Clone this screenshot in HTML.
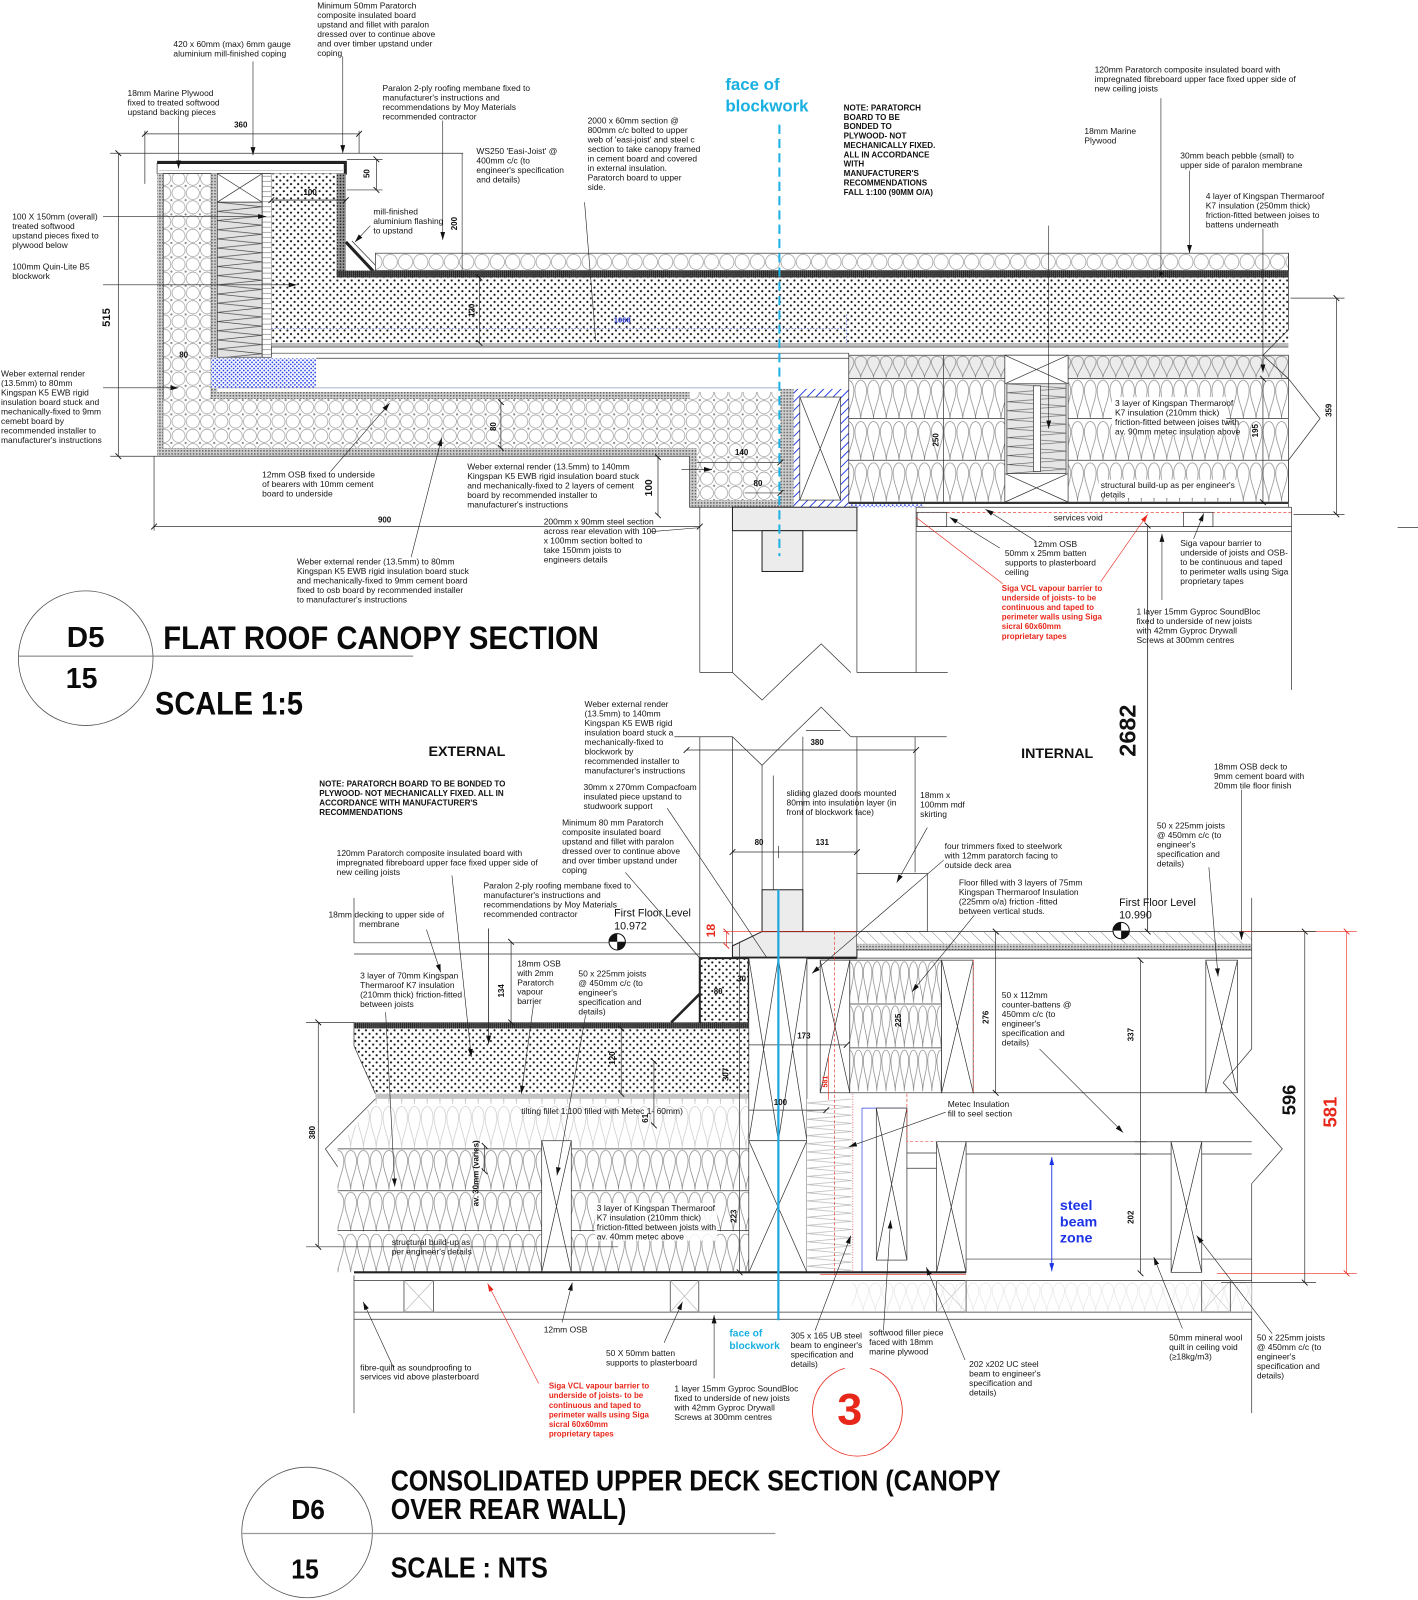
<!DOCTYPE html>
<html><head><meta charset="utf-8"><style>
html,body{margin:0;padding:0;background:#fff}
svg{display:block}
text{font-family:"Liberation Sans",Arial,sans-serif;fill:#151515}
.t{font-size:8.3px}
.n{font-size:7.9px;font-weight:bold;fill:#111}
.d{font-size:7.8px;font-weight:bold;fill:#111}
.r{font-size:7.8px;font-weight:bold;fill:#e8271b}
.ti{font-weight:bold;fill:#0a0a0a}
</style></head><body>
<svg width="1418" height="1600" viewBox="0 0 1390 1568" xmlns="http://www.w3.org/2000/svg">
<defs>
<marker id="ar" viewBox="0 0 10 6" refX="10" refY="3" markerWidth="8" markerHeight="4.8" markerUnits="userSpaceOnUse" orient="auto"><path d="M0,0L10,3L0,6z" fill="#111"/></marker>
<marker id="arr" viewBox="0 0 10 6" refX="10" refY="3" markerWidth="8" markerHeight="4.8" markerUnits="userSpaceOnUse" orient="auto"><path d="M0,0L10,3L0,6z" fill="#e8271b"/></marker>
<marker id="arb" viewBox="0 0 10 6" refX="10" refY="3" markerWidth="8" markerHeight="4.8" markerUnits="userSpaceOnUse" orient="auto-start-reverse"><path d="M0,0L10,3L0,6z" fill="#1c33e6"/></marker>
<marker id="tk" viewBox="0 0 10 10" refX="5" refY="5" markerWidth="8" markerHeight="8" markerUnits="userSpaceOnUse" orient="auto"><path d="M1.5,8.5L8.5,1.5" stroke="#111" stroke-width="1.1"/></marker>
<marker id="tkr" viewBox="0 0 10 10" refX="5" refY="5" markerWidth="8" markerHeight="8" markerUnits="userSpaceOnUse" orient="auto"><path d="M1.5,8.5L8.5,1.5" stroke="#e8271b" stroke-width="1.1"/></marker>
<pattern id="dots" width="7" height="7" patternUnits="userSpaceOnUse"><rect width="7" height="7" fill="#fff"/><circle cx="1.75" cy="1.75" r="1.05" fill="#111"/><circle cx="5.25" cy="5.25" r="1.05" fill="#111"/></pattern>
<pattern id="gd" width="3" height="3" patternUnits="userSpaceOnUse"><rect width="3" height="3" fill="#cfcfcf"/><rect width="1.5" height="1.5" fill="#666"/></pattern>
<pattern id="gd2" width="3" height="3" patternUnits="userSpaceOnUse"><rect width="3" height="3" fill="#999"/><rect width="1.5" height="1.5" fill="#222"/></pattern>
<pattern id="mem" width="2" height="2" patternUnits="userSpaceOnUse"><rect width="2" height="2" fill="#222"/><rect x="1" y="1" width="1" height="1" fill="#999"/></pattern>
<pattern id="circ" width="14" height="14" patternUnits="userSpaceOnUse"><rect width="14" height="14" fill="#fff"/><circle cx="7" cy="7" r="6.4" fill="none" stroke="#8a8a8a" stroke-width=".6"/><circle cx="0" cy="0" r="1.1" fill="#8a8a8a"/><circle cx="14" cy="0" r="1.1" fill="#8a8a8a"/><circle cx="0" cy="14" r="1.1" fill="#8a8a8a"/><circle cx="14" cy="14" r="1.1" fill="#8a8a8a"/></pattern>
<pattern id="peb" width="15" height="17" y="248" patternUnits="userSpaceOnUse"><rect width="15" height="17" fill="#fff"/><ellipse cx="7.5" cy="8.5" rx="7" ry="7.5" fill="none" stroke="#8a8a8a" stroke-width=".6"/></pattern>
<pattern id="bt" width="12.5" height="23" y="348" patternUnits="userSpaceOnUse"><rect width="12.5" height="23" fill="#ececec"/><path d="M6.25,22 C6.25,16 0.5,12.5 0.5,6.5 A5.75,5.5 0 0 1 12,6.5 C12,12.5 6.25,16 6.25,22" fill="none" stroke="#777" stroke-width=".6"/></pattern>
<pattern id="b41" width="12.5" height="40.5" y="371" patternUnits="userSpaceOnUse"><rect width="12.5" height="40.5" fill="#fff"/><path d="M6.25,39.5 C6.25,29 0.5,22.5 0.5,11.5 A5.75,10 0 0 1 12,11.5 C12,22.5 6.25,29 6.25,39.5" fill="none" stroke="#777" stroke-width=".6"/></pattern>
<pattern id="b41b" width="12.5" height="41" y="1126" patternUnits="userSpaceOnUse"><rect width="12.5" height="41" fill="#fff"/><path d="M6.25,40 C6.25,29 0.5,22.5 0.5,11.5 A5.75,10 0 0 1 12,11.5 C12,22.5 6.25,29 6.25,40" fill="none" stroke="#777" stroke-width=".6"/></pattern>
<pattern id="bf" width="12.5" height="43" y="1083" patternUnits="userSpaceOnUse"><rect width="12.5" height="43" fill="#fff"/><path d="M6.25,42 C6.25,30 0.5,24 0.5,12 A5.75,10.5 0 0 1 12,12 C12,24 6.25,30 6.25,42" fill="none" stroke="#c4c4c4" stroke-width=".6"/></pattern>
<pattern id="bv" width="9" height="43.3" y="941" patternUnits="userSpaceOnUse"><rect width="9" height="43.3" fill="#fff"/><path d="M4.5,42 C4.5,30 0.4,24 0.4,12 A4.1,10.5 0 0 1 8.6,12 C8.6,24 4.5,30 4.5,42" fill="none" stroke="#777" stroke-width=".6"/></pattern>
<pattern id="bw" width="12" height="30" y="1256" patternUnits="userSpaceOnUse"><rect width="12" height="30" fill="#fff"/><path d="M6,29 C6,21 0.5,17 0.5,9 A5.5,7.5 0 0 1 11.5,9 C11.5,17 6,21 6,29" fill="none" stroke="#e2e2e2" stroke-width=".6"/></pattern>
<pattern id="zig" width="44" height="9" x="213" y="198" patternUnits="userSpaceOnUse"><rect width="44" height="9" fill="#e2e2e2"/><polyline points="0,0 44,4.5 0,9" fill="none" stroke="#444" stroke-width=".6"/></pattern>
<pattern id="zig2" width="59" height="8.8" x="987" y="376" patternUnits="userSpaceOnUse"><rect width="59" height="8.8" fill="#e6e6e6"/><polyline points="0,0 59,4.4 0,8.8" fill="none" stroke="#444" stroke-width=".6"/></pattern>
<pattern id="zz" width="44" height="8" x="791" y="1077" patternUnits="userSpaceOnUse"><rect width="44" height="8" fill="#fff"/><polyline points="44,0 0,4 44,8" fill="none" stroke="#b5b5b5" stroke-width=".6"/></pattern>
<pattern id="lad" width="9" height="5" patternUnits="userSpaceOnUse"><rect width="9" height="5" fill="#fff"/><line x1="0" y1="2.5" x2="9" y2="2.5" stroke="#777" stroke-width=".6"/></pattern>
<pattern id="h45" width="9" height="9" patternUnits="userSpaceOnUse" patternTransform="rotate(-45)"><rect width="9" height="9" fill="#fff"/><line x1="0" y1="0" x2="0" y2="9" stroke="#777" stroke-width=".8"/></pattern>
<pattern id="bh" width="6" height="6" patternUnits="userSpaceOnUse" patternTransform="rotate(45)"><rect width="6" height="6" fill="#fff"/><line x1="0" y1="0" x2="0" y2="6" stroke="#1c33e6" stroke-width="1.8"/></pattern>
<pattern id="bd" width="4" height="4" patternUnits="userSpaceOnUse"><rect width="4" height="4" fill="#fff"/><circle cx="1" cy="1" r=".9" fill="#2a45e8"/><circle cx="3" cy="3" r=".9" fill="#2a45e8"/></pattern>
</defs>

<!-- ================= D5 DRAWING ================= -->
<g fill="none" stroke="#333" stroke-width=".7">
<!-- coping & plywood -->
<rect x="154" y="160" width="185" height="10" fill="#fff"/>
<path d="M154,159H338.5V171" stroke="#222" stroke-width="3"/>
<path d="M156,167H336" stroke="#aaa"/>
<!-- left wall -->
<rect x="154" y="170" width="6" height="277" fill="url(#gd)" stroke="none"/>
<rect x="160" y="170" width="47" height="269" fill="url(#circ)"/>
<rect x="207" y="170" width="6" height="221" fill="url(#gd)" stroke="none"/>
<rect x="213" y="170" width="44" height="28" fill="#fff"/>
<path d="M213,170L257,198M257,170L213,198"/>
<rect x="213" y="198" width="44" height="152" fill="url(#zig)"/>
<rect x="257" y="170" width="9" height="180" fill="url(#lad)"/>
<rect x="266" y="170" width="64" height="102" fill="url(#dots)" stroke="none"/>
<rect x="330" y="170" width="9" height="98" fill="url(#gd2)" stroke="none"/>
<path d="M266,196H339"/>
<!-- fillet -->
<path d="M339,237L368,268" stroke="#222" stroke-width="3"/>
<path d="M345,236L373,265"/>
<!-- pebble, membrane, slab -->
<rect x="368" y="248" width="895" height="17" fill="url(#peb)"/>
<rect x="330" y="265" width="933" height="7" fill="url(#mem)" stroke="none"/>
<rect x="266" y="272" width="997" height="64" fill="url(#dots)" stroke="none"/>
<path d="M266,322H830" stroke="#4458e0" stroke-dasharray="1.5,1.5"/>
<path d="M830,308V336" stroke="#4458e0" stroke-dasharray="1.5,1.5"/>
<rect x="266" y="336" width="997" height="4" fill="#bdbdbd" stroke="none"/>
<path d="M266,340H1263M266,346H832M832,346V348"/>
<rect x="207" y="351" width="103" height="29" fill="url(#bd)" stroke="none"/>
<path d="M310,351H832"/>
<path d="M213,380H765" stroke="#8c93c8"/>
<!-- soffit -->
<rect x="213" y="384" width="463" height="7" fill="url(#gd)" stroke="none"/>
<rect x="160" y="391" width="516" height="48" fill="url(#circ)" stroke="none"/>
<rect x="154" y="439" width="522" height="8" fill="url(#gd)" stroke="none"/>
<rect x="676" y="384" width="89" height="106" fill="url(#circ)" stroke="none"/>
<rect x="676" y="439" width="7" height="58" fill="url(#gd)" stroke="none"/>
<rect x="676" y="490" width="89" height="7" fill="url(#gd)" stroke="none"/>
<rect x="765" y="381" width="13" height="116" fill="url(#gd)" stroke="none"/>
<path d="M154,447H676V497H778"/>
<!-- steel -->
<rect x="778" y="381" width="54" height="116" fill="url(#bh)" stroke="none"/>
<rect x="784" y="389" width="40" height="101" fill="#fff"/>
<path d="M784,389L824,490M824,389L784,490"/>
<rect x="832" y="492" width="73" height="5" fill="url(#bd)" stroke="none"/>
<rect x="718" y="497" width="122" height="23" fill="#ececec" stroke="#222" stroke-width="1"/>
<rect x="747" y="520" width="40" height="40" fill="#ececec" stroke="#222" stroke-width="1"/>
<!-- insulation between joists -->
<rect x="832" y="348" width="431" height="23" fill="url(#bt)"/>
<rect x="832" y="371" width="431" height="121" fill="url(#b41)"/>
<path d="M832,410H1263M832,451H1263"/>
<rect x="985" y="348" width="62" height="144" fill="#fff"/>
<path d="M985,348L1047,376M1047,348L985,376M985,464L1047,492M1047,464L985,492"/>
<rect x="987" y="376" width="58" height="88" fill="url(#zig2)"/>
<rect x="1013" y="378" width="7" height="84" fill="#fff"/>
<path d="M1263,248V323L1238,348L1263,371L1294,410L1263,451V497"/>
<!-- ceiling / services void -->
<path d="M832,493H1263" stroke-width="1.6"/>
<path d="M898,497H1266M898,516H1266M898,521H1266"/>
<path d="M898,502H1266" stroke="#e8271b" stroke-dasharray="3,2"/>
<rect x="899" y="502" width="29" height="14"/>
<rect x="1160" y="502" width="29" height="14"/>
<!-- below -->
<path d="M686,497V659M718,520V659M840,520V659M898,497V659M686,659H718M840,659H929M1266,497V676M1125,520V913"/>
<path d="M718,659L747,686L775,659L805,631L834,659"/>
<!-- dims -->
<path d="M116,150V447" marker-start="url(#tk)" marker-end="url(#tk)"/>
<path d="M108,150H454M108,447H154M151,447V520M142,128V180M352,128V150"/>
<path d="M142,131H352" marker-start="url(#tk)" marker-end="url(#tk)"/>
<path d="M151,516H686" marker-start="url(#tk)" marker-end="url(#tk)"/>
<path d="M369,156V186" marker-start="url(#tk)" marker-end="url(#tk)"/>
<path d="M340,156H375M340,186H375"/>
<path d="M266,196H339" marker-start="url(#tk)" marker-end="url(#tk)"/>
<path d="M470,272V336" marker-start="url(#tk)" marker-end="url(#tk)"/>
<path d="M491,394V439" marker-start="url(#tk)" marker-end="url(#tk)"/>
<path d="M683,453H765" marker-end="url(#tk)"/>
<path d="M730,483H765" marker-end="url(#tk)"/>
<path d="M645,448V505" marker-start="url(#tk)" marker-end="url(#tk)"/>
<path d="M925,348V492"/>
<path d="M1238,371V492" marker-start="url(#tk)" marker-end="url(#tk)"/>
<path d="M1310,292V504" marker-start="url(#tk)" marker-end="url(#tk)"/>
<path d="M1265,292H1318M1268,504H1318M1370,517H1390"/>
</g>
<!-- face of blockwork dashed -->
<path d="M764,122V545" stroke="#1fb1e3" stroke-width="2" stroke-dasharray="9,5"/>

<!-- D5 leaders -->
<g fill="none" stroke="#222" stroke-width=".6">
<path d="M248,60V152" marker-end="url(#ar)"/>
<path d="M336,55V150" marker-end="url(#ar)"/>
<path d="M175,113V165" marker-end="url(#ar)"/>
<path d="M434,118V235" marker-end="url(#ar)"/>
<path d="M453,150V265"/>
<path d="M573,198L584,334"/>
<path d="M101,212H261" marker-end="url(#ar)"/>
<path d="M101,279H291" marker-end="url(#ar)"/>
<path d="M101,380H175" marker-end="url(#ar)"/>
<path d="M363,221L348,237" marker-end="url(#ar)"/>
<path d="M324,462L382,395" marker-end="url(#ar)"/>
<path d="M403,546L433,429" marker-end="url(#ar)"/>
<path d="M668,460H698" marker-end="url(#ar)"/>
<path d="M638,521L686,517"/>
<path d="M1138,96V267"/>
<circle cx="1138" cy="268" r="1.6" fill="#111"/>
<path d="M1028,221V420" marker-end="url(#ar)"/>
<path d="M1166,167V248" marker-end="url(#ar)"/>
<path d="M1238,224V365" marker-end="url(#ar)"/>
<path d="M1015,530L966,499" marker-end="url(#ar)"/>
<path d="M980,537L931,507" marker-end="url(#ar)"/>
<path d="M1170,528L1180,503" marker-end="url(#ar)"/>
<path d="M1139,588V523" marker-end="url(#ar)"/>
<path d="M1079,570L1125,504" stroke="#e8271b" marker-end="url(#arr)"/>
<path d="M983,572L898,507" stroke="#e8271b"/>
</g>

<!-- D5 text -->
<text class="t" x="311" y="8"><tspan x="311">Minimum 50mm Paratorch</tspan><tspan x="311" dy="9.3">composite insulated board</tspan><tspan x="311" dy="9.3">upstand and fillet with paralon</tspan><tspan x="311" dy="9.3">dressed over to continue above</tspan><tspan x="311" dy="9.3">and over timber upstand under</tspan><tspan x="311" dy="9.3">coping</tspan></text>
<text class="t" x="170" y="46"><tspan x="170">420 x 60mm (max)  6mm gauge</tspan><tspan x="170" dy="9.3">aluminium mill-finished coping</tspan></text>
<text class="t" x="125" y="94"><tspan x="125">18mm Marine Plywood</tspan><tspan x="125" dy="9.3">fixed to treated softwood</tspan><tspan x="125" dy="9.3">upstand backing pieces</tspan></text>
<text class="t" x="375" y="89"><tspan x="375">Paralon 2-ply roofing membane fixed to</tspan><tspan x="375" dy="9.3">manufacturer's instructions and</tspan><tspan x="375" dy="9.3">recommendations by Moy Materials</tspan><tspan x="375" dy="9.3">recommended contractor</tspan></text>
<text class="t" x="576" y="121"><tspan x="576">2000 x 60mm section @</tspan><tspan x="576" dy="9.3">800mm c/c  bolted to upper</tspan><tspan x="576" dy="9.3">web of 'easi-joist' and steel c</tspan><tspan x="576" dy="9.3">section to take canopy framed</tspan><tspan x="576" dy="9.3">in cement board and covered</tspan><tspan x="576" dy="9.3">in external insulation.</tspan><tspan x="576" dy="9.3">Paratorch board to upper</tspan><tspan x="576" dy="9.3">side.</tspan></text>
<text class="t" x="467" y="151"><tspan x="467">WS250 'Easi-Joist' @</tspan><tspan x="467" dy="9.3">400mm c/c (to</tspan><tspan x="467" dy="9.3">engineer's specification</tspan><tspan x="467" dy="9.3">and details)</tspan></text>
<text x="711" y="88" style="font-size:16.5px;font-weight:bold;fill:#17b0e0">face of</text>
<text x="711" y="109" style="font-size:16.5px;font-weight:bold;fill:#17b0e0">blockwork</text>
<text class="n" x="827" y="108"><tspan x="827">NOTE: PARATORCH</tspan><tspan x="827" dy="9.2">BOARD TO BE</tspan><tspan x="827" dy="9.2">BONDED TO</tspan><tspan x="827" dy="9.2">PLYWOOD- NOT</tspan><tspan x="827" dy="9.2">MECHANICALLY FIXED.</tspan><tspan x="827" dy="9.2">ALL IN ACCORDANCE</tspan><tspan x="827" dy="9.2">WITH</tspan><tspan x="827" dy="9.2">MANUFACTURER'S</tspan><tspan x="827" dy="9.2">RECOMMENDATIONS</tspan><tspan x="827" dy="9.2">FALL 1:100 (90MM O/A)</tspan></text>
<text class="t" x="1073" y="71"><tspan x="1073">120mm Paratorch composite insulated board with</tspan><tspan x="1073" dy="9.3">impregnated fibreboard upper face fixed upper side of</tspan><tspan x="1073" dy="9.3">new ceiling joists</tspan></text>
<text class="t" x="1063" y="131"><tspan x="1063">18mm Marine</tspan><tspan x="1063" dy="9.3">Plywood</tspan></text>
<text class="t" x="1157" y="155"><tspan x="1157">30mm beach pebble (small) to</tspan><tspan x="1157" dy="9.3">upper side of paralon membrane</tspan></text>
<text class="t" x="1182" y="195"><tspan x="1182">4 layer of Kingspan Thermaroof</tspan><tspan x="1182" dy="9.3">K7 insulation (250mm thick)</tspan><tspan x="1182" dy="9.3">friction-fitted between joises to</tspan><tspan x="1182" dy="9.3">battens underneath</tspan></text>
<text class="t" x="12" y="215"><tspan x="12">100 X 150mm (overall)</tspan><tspan x="12" dy="9.3">treated softwood</tspan><tspan x="12" dy="9.3">upstand pieces fixed to</tspan><tspan x="12" dy="9.3">plywood below</tspan></text>
<text class="t" x="12" y="264"><tspan x="12">100mm Quin-Lite B5</tspan><tspan x="12" dy="9.3">blockwork</tspan></text>
<text class="t" x="1" y="369"><tspan x="1">Weber external render</tspan><tspan x="1" dy="9.3">(13.5mm) to 80mm</tspan><tspan x="1" dy="9.3">Kingspan K5 EWB rigid</tspan><tspan x="1" dy="9.3">insulation board stuck and</tspan><tspan x="1" dy="9.3">mechanically-fixed to 9mm</tspan><tspan x="1" dy="9.3">cemebt board by</tspan><tspan x="1" dy="9.3">recommended installer to</tspan><tspan x="1" dy="9.3">manufacturer's instructions</tspan></text>
<text class="t" x="366" y="210"><tspan x="366">mill-finished</tspan><tspan x="366" dy="9.3">aluminium flashing</tspan><tspan x="366" dy="9.3">to upstand</tspan></text>
<text class="t" x="257" y="468"><tspan x="257">12mm OSB fixed to underside</tspan><tspan x="257" dy="9.3">of bearers with 10mm cement</tspan><tspan x="257" dy="9.3">board to underside</tspan></text>
<text class="t" x="458" y="460"><tspan x="458">Weber external render (13.5mm) to 140mm</tspan><tspan x="458" dy="9.3">Kingspan K5 EWB rigid insulation board stuck</tspan><tspan x="458" dy="9.3">and mechanically-fixed to 2 layers of cement</tspan><tspan x="458" dy="9.3">board by recommended installer to</tspan><tspan x="458" dy="9.3">manufacturer's instructions</tspan></text>
<text class="t" x="533" y="514"><tspan x="533">200mm x 90mm steel section</tspan><tspan x="533" dy="9.3">across rear elevation with 100</tspan><tspan x="533" dy="9.3">x 100mm section bolted to</tspan><tspan x="533" dy="9.3">take 150mm joists to</tspan><tspan x="533" dy="9.3">engineers details</tspan></text>
<text class="t" x="291" y="553"><tspan x="291">Weber external render (13.5mm) to 80mm</tspan><tspan x="291" dy="9.3">Kingspan K5 EWB rigid insulation board stuck</tspan><tspan x="291" dy="9.3">and mechanically-fixed to 9mm cement board</tspan><tspan x="291" dy="9.3">fixed to osb board by recommended installer</tspan><tspan x="291" dy="9.3">to manufacturer's instructions</tspan></text>
<text class="t" x="1013" y="536">12mm OSB</text>
<text class="t" x="985" y="545"><tspan x="985">50mm x 25mm batten</tspan><tspan x="985" dy="9.3">supports to plasterboard</tspan><tspan x="985" dy="9.3">ceiling</tspan></text>
<text class="r" x="982" y="579"><tspan x="982">Siga VCL vapour barrier to</tspan><tspan x="982" dy="9.4">underside of joists- to be</tspan><tspan x="982" dy="9.4">continuous and taped to</tspan><tspan x="982" dy="9.4">perimeter walls using Siga</tspan><tspan x="982" dy="9.4">sicral 60x60mm</tspan><tspan x="982" dy="9.4">proprietary tapes</tspan></text>
<text class="t" x="1157" y="535"><tspan x="1157">Siga vapour barrier to</tspan><tspan x="1157" dy="9.3">underside of joists and OSB-</tspan><tspan x="1157" dy="9.3">to be continuous and taped</tspan><tspan x="1157" dy="9.3">to perimeter walls using Siga</tspan><tspan x="1157" dy="9.3">proprietary tapes</tspan></text>
<text class="t" x="1114" y="602"><tspan x="1114">1 layer 15mm Gyproc SoundBloc</tspan><tspan x="1114" dy="9.3">fixed to underside of new joists</tspan><tspan x="1114" dy="9.3">with  42mm Gyproc Drywall</tspan><tspan x="1114" dy="9.3">Screws at 300mm centres</tspan></text>
<rect x="1090" y="389" width="112" height="37" fill="#fff"/>
<text class="t" x="1093" y="398"><tspan x="1093">3 layer of Kingspan Thermaroof</tspan><tspan x="1093" dy="9.3">K7 insulation (210mm thick)</tspan><tspan x="1093" dy="9.3">friction-fitted between joises twith</tspan><tspan x="1093" dy="9.3">av. 90mm metec insulation above</tspan></text>
<rect x="1077" y="470" width="136" height="18" fill="#fff"/>
<text class="t" x="1079" y="478"><tspan x="1079">structural build-up as per engineer's</tspan><tspan x="1079" dy="9.3">details</tspan></text>
<text class="t" x="1033" y="510">services void</text>
<!-- D5 dims text -->
<text class="d" x="236" y="125" text-anchor="middle">360</text>
<text class="d" transform="translate(362,170) rotate(-90)" text-anchor="middle">50</text>
<text class="d" x="304" y="191" text-anchor="middle">100</text>
<text class="d" transform="translate(448,219) rotate(-90)" text-anchor="middle">200</text>
<text transform="translate(108,311) rotate(-90)" text-anchor="middle" style="font-size:11px;font-weight:bold">515</text>
<text class="d" x="180" y="350" text-anchor="middle">80</text>
<text class="d" transform="translate(465,304) rotate(-90)" text-anchor="middle">120</text>
<text x="610" y="316" text-anchor="middle" style="font-size:7.5px;font-weight:bold;fill:#2233cc">1068</text>
<text class="d" transform="translate(486,418) rotate(-90)" text-anchor="middle">80</text>
<text class="d" x="727" y="446" text-anchor="middle">140</text>
<text class="d" x="743" y="476" text-anchor="middle">80</text>
<text transform="translate(639,478) rotate(-90)" text-anchor="middle" style="font-size:10px;font-weight:bold">100</text>
<text class="d" x="377" y="512" text-anchor="middle">900</text>
<text class="d" transform="translate(920,431) rotate(-90)" text-anchor="middle">250</text>
<text class="d" transform="translate(1233,422) rotate(-90)" text-anchor="middle">195</text>
<text class="d" transform="translate(1305,402) rotate(-90)" text-anchor="middle">359</text>

<!-- D5 title -->
<circle cx="84" cy="645" r="66" fill="none" stroke="#555" stroke-width=".8"/>
<path d="M18,643H405" stroke="#777" stroke-width="1"/>
<text class="ti" x="84" y="634" text-anchor="middle" style="font-size:28px" textLength="37" lengthAdjust="spacingAndGlyphs">D5</text>
<text class="ti" x="80" y="674" text-anchor="middle" style="font-size:28px" textLength="31" lengthAdjust="spacingAndGlyphs">15</text>
<text class="ti" x="160" y="636" style="font-size:32px" textLength="427" lengthAdjust="spacingAndGlyphs">FLAT ROOF CANOPY SECTION</text>
<text class="ti" x="152" y="700" style="font-size:32px" textLength="145" lengthAdjust="spacingAndGlyphs">SCALE 1:5</text>

<!-- ================= D6 DRAWING ================= -->
<g fill="none" stroke="#333" stroke-width=".7">
<path d="M661,722H718M834,722H928M686,722V939M718,722V927M787,722V872M840,722V913M897,722V855M747,750V872M758,760V872"/>
<path d="M718,722L747,750L775,722L805,693L834,722"/>
<path d="M790,716H824"/>
<path d="M673,735H898" marker-start="url(#tk)" marker-end="url(#tk)"/>
<path d="M718,835H840" marker-start="url(#tk)" marker-end="url(#tk)"/>
<path d="M763,829V841"/>
<rect x="840" y="856" width="69" height="57" fill="#fff"/>
<rect x="747" y="872" width="40" height="41" fill="#ececec" stroke="#222" stroke-width="1"/>
<polygon points="718,927 747,913 840,913 840,938 718,938" fill="#ececec" stroke="#222" stroke-width="1"/>
<path d="M718,939H840" stroke="#222" stroke-width="2"/>
<path d="M347,880V924M347,924H718M347,935H686M479,910V1002"/>
<rect x="686" y="939" width="48" height="64" fill="url(#dots)" stroke="#222" stroke-width="2"/>
<path d="M658,1002L686,974" stroke="#222" stroke-width="2.5"/>
<rect x="347" y="1002" width="387" height="6" fill="url(#mem)" stroke="none"/>
<polygon points="347,1008 734,1008 734,1072 368,1072 347,1025" fill="url(#dots)" stroke="none"/>
<rect x="368" y="1072" width="366" height="5" fill="#c4c4c4" stroke="none"/>
<polygon points="368,1077 734,1077 734,1126 331,1126" fill="url(#bf)" stroke="none"/>
<path d="M347,1002V1025L368,1072M368,1077L319,1126L347,1167"/>
<rect x="331" y="1126" width="403" height="121" fill="url(#b41b)" stroke="none"/>
<path d="M331,1167H734M331,1206H734M331,1126H734"/>
<rect x="531" y="1118" width="29" height="129" fill="#fff"/>
<path d="M531,1118L560,1247M560,1118L531,1247"/>
<rect x="734" y="939" width="57" height="179" fill="#fff"/>
<path d="M734,939L763,1118M763,939L734,1118M763,939L791,1118M791,939L763,1118"/>
<rect x="734" y="1118" width="57" height="129" fill="#fff"/>
<path d="M734,1118L791,1247M791,1118L734,1247"/>
<rect x="791" y="1077" width="44" height="170" fill="url(#zz)" stroke="none"/>
<rect x="804" y="941" width="29" height="130" fill="#fff"/>
<path d="M804,941L833,1071M833,941L804,1071"/>
<rect x="833" y="941" width="90" height="130" fill="url(#bv)"/>
<path d="M833,984H923M833,1027H923"/>
<rect x="923" y="941" width="31" height="130" fill="#fff"/>
<path d="M923,941L954,1071M954,941L923,1071"/>
<rect x="840" y="913" width="387" height="12" fill="url(#h45)" stroke="none"/>
<rect x="840" y="925" width="387" height="6" fill="url(#gd)" stroke="none"/>
<path d="M840,913H1227M840,931H1227M791,939H1227"/>
<path d="M954,1071H1208M947,1119H1227M947,1131H1227M947,1234H1227M889,1130H918M889,1145H918"/>
<rect x="1182" y="941" width="31" height="130" fill="#fff"/>
<path d="M1182,941L1213,1071M1213,941L1182,1071"/>
<path d="M845,1247V1086H889" stroke="#3344dd"/>
<rect x="859" y="1086" width="30" height="149" fill="#fff"/>
<path d="M859,1086L889,1235M889,1086L859,1235"/>
<rect x="918" y="1119" width="29" height="128" fill="#fff"/>
<path d="M918,1119L947,1247M947,1119L918,1247"/>
<rect x="1148" y="1119" width="30" height="128" fill="#fff"/>
<path d="M1148,1119L1178,1247M1178,1119L1148,1247"/>
<path d="M1227,880V1028L1199,1061L1257,1126L1227,1160V1385"/>
<path d="M347,1247H947" stroke="#222" stroke-width="2"/>
<rect x="835" y="1256" width="392" height="30" fill="url(#bw)" stroke="none"/>
<path d="M347,1255H1227M347,1286H1227M347,1293H1227M347,1250V1385"/>
<rect x="396" y="1255" width="29" height="31"/><path d="M396,1255L425,1286M425,1255L396,1286" stroke="#bbb"/>
<rect x="657" y="1255" width="28" height="31"/><path d="M657,1255L685,1286M685,1255L657,1286" stroke="#bbb"/>
<rect x="918" y="1255" width="29" height="31"/><path d="M918,1255L947,1286M947,1255L918,1286" stroke="#ccc"/>
<rect x="1178" y="1255" width="28" height="31"/><path d="M1178,1255L1206,1286M1206,1255L1178,1286" stroke="#ccc"/>
<g stroke="#e8271b" stroke-width=".6">
<path d="M709,913H840M1215,913H1330M1193,1248H1330M804,1249H947"/>
<path d="M818,913V1250" stroke-dasharray="3,2"/>
<path d="M836,1072V1247" stroke-dasharray="1,1.5"/>
<path d="M954,941V1072M889,1072V1119H918" stroke-dasharray="3,2"/>
<path d="M712,913V927" marker-start="url(#tkr)" marker-end="url(#tkr)"/>
<path d="M1320,913V1248" marker-start="url(#tkr)" marker-end="url(#tkr)"/>
<path d="M812,1035V1078"/>
</g>
<path d="M312,1002V1222" marker-start="url(#tk)" marker-end="url(#tk)"/>
<path d="M300,1002H347M300,1222H606"/>
<path d="M501,923V1002" marker-start="url(#tk)" marker-end="url(#tk)"/>
<path d="M609,1008V1072" marker-start="url(#tk)" marker-end="url(#tk)"/>
<path d="M725,923V1247" marker-end="url(#tk)"/>
<path d="M734,1024H830" marker-end="url(#tk)"/>
<path d="M734,1088H810" marker-end="url(#tk)"/>
<path d="M641,1040V1103" marker-start="url(#tk)" marker-end="url(#tk)"/>
<path d="M475,1123V1148" marker-start="url(#tk)" marker-end="url(#tk)"/>
<path d="M976,913V1071" marker-start="url(#tk)" marker-end="url(#tk)"/>
<path d="M1118,941V1248" marker-start="url(#tk)" marker-end="url(#tk)"/>
<path d="M1112,1119H1124M1112,1131H1124"/>
<path d="M1279,913V1257" marker-start="url(#tk)" marker-end="url(#tk)"/>
<path d="M1227,913H1290M1197,1257H1290"/>
<path d="M1125,515V913" marker-start="url(#tk)" marker-end="url(#tk)"/>
</g>
<path d="M1031,1134V1246" stroke="#1c33e6" stroke-width=".9" marker-start="url(#arb)" marker-end="url(#arb)"/>
<path d="M763,872V1294" stroke="#1fa8e0" stroke-width="2.2"/>

<g>
<circle cx="605" cy="923" r="8" fill="#fff" stroke="#111" stroke-width="1"/>
<path d="M605,923V915A8,8 0 0 0 597,923Z" fill="#111"/>
<path d="M605,923H613A8,8 0 0 1 605,931Z" fill="#111"/>
<circle cx="1099" cy="912" r="8" fill="#fff" stroke="#111" stroke-width="1"/>
<path d="M1099,912V904A8,8 0 0 0 1091,912Z" fill="#111"/>
<path d="M1099,912H1107A8,8 0 0 1 1099,920Z" fill="#111"/>
</g>

<g fill="none" stroke="#222" stroke-width=".6">
<path d="M654,792L752,939"/>
<path d="M613,855L686,939"/>
<path d="M909,811L879,865" marker-end="url(#ar)"/>
<path d="M925,843L796,954" marker-end="url(#ar)"/>
<path d="M955,897L894,972" marker-end="url(#ar)"/>
<path d="M1217,774V921" marker-end="url(#ar)"/>
<path d="M1185,850L1194,957" marker-end="url(#ar)"/>
<path d="M418,911L432,953" marker-end="url(#ar)"/>
<path d="M443,858L462,1036" marker-end="url(#ar)"/>
<path d="M479,910V1023" marker-end="url(#ar)"/>
<path d="M378,992L387,1163" marker-end="url(#ar)"/>
<path d="M523,984L511,1072" marker-end="url(#ar)"/>
<path d="M574,995L546,1152" marker-end="url(#ar)"/>
<path d="M386,1341L356,1276" marker-end="url(#ar)"/>
<path d="M551,1296L561,1257" marker-end="url(#ar)"/>
<path d="M651,1316L669,1276" marker-end="url(#ar)"/>
<path d="M700,1351V1289" marker-end="url(#ar)"/>
<path d="M799,1304L834,1211" marker-end="url(#ar)"/>
<path d="M866,1304L873,1196" marker-end="url(#ar)"/>
<path d="M946,1333L908,1242" marker-end="url(#ar)"/>
<path d="M1159,1302L1131,1232" marker-end="url(#ar)"/>
<path d="M1247,1307L1173,1211" marker-end="url(#ar)"/>
<path d="M927,1090L832,1124" marker-end="url(#ar)"/>
<path d="M1019,1028L1101,1110" marker-end="url(#ar)"/>
<path d="M528,1356L478,1258" stroke="#e8271b" marker-end="url(#arr)"/>
</g>

<text x="420" y="741" style="font-size:14px;font-weight:bold;fill:#111">EXTERNAL</text>
<text x="1001" y="743" style="font-size:14px;font-weight:bold;fill:#111">INTERNAL</text>
<text transform="translate(1113,716) rotate(-90)" text-anchor="middle" style="font-size:23px;font-weight:bold;fill:#111">2682</text>
<text class="n" x="313" y="771"><tspan x="313">NOTE: PARATORCH BOARD TO BE BONDED TO</tspan><tspan x="313" dy="9.3">PLYWOOD- NOT MECHANICALLY FIXED. ALL IN</tspan><tspan x="313" dy="9.3">ACCORDANCE WITH MANUFACTURER'S</tspan><tspan x="313" dy="9.3">RECOMMENDATIONS</tspan></text>
<text class="t" x="573" y="693"><tspan x="573">Weber external render</tspan><tspan x="573" dy="9.3">(13.5mm) to 140mm</tspan><tspan x="573" dy="9.3">Kingspan K5 EWB rigid</tspan><tspan x="573" dy="9.3">insulation board stuck a</tspan><tspan x="573" dy="9.3">mechanically-fixed to</tspan><tspan x="573" dy="9.3">blockwork by</tspan><tspan x="573" dy="9.3">recommended installer to</tspan><tspan x="573" dy="9.3">manufacturer's instructions</tspan></text>
<text class="t" x="572" y="774"><tspan x="572">30mm x 270mm Compacfoam</tspan><tspan x="572" dy="9.3">insulated piece upstand to</tspan><tspan x="572" dy="9.3">studwoork support</tspan></text>
<text class="t" x="551" y="809"><tspan x="551">Minimum 80 mm Paratorch</tspan><tspan x="551" dy="9.3">composite insulated board</tspan><tspan x="551" dy="9.3">upstand and fillet with paralon</tspan><tspan x="551" dy="9.3">dressed over to continue above</tspan><tspan x="551" dy="9.3">and over timber upstand under</tspan><tspan x="551" dy="9.3">coping</tspan></text>
<text class="t" x="771" y="780"><tspan x="771">sliding glazed doors mounted</tspan><tspan x="771" dy="9.3">80mm into insulation layer (in</tspan><tspan x="771" dy="9.3">front of blockwork face)</tspan></text>
<text class="t" x="902" y="782"><tspan x="902">18mm x</tspan><tspan x="902" dy="9.3">100mm mdf</tspan><tspan x="902" dy="9.3">skirting</tspan></text>
<text class="t" x="1190" y="754"><tspan x="1190">18mm OSB deck to</tspan><tspan x="1190" dy="9.3">9mm cement board with</tspan><tspan x="1190" dy="9.3">20mm tile floor finish</tspan></text>
<text class="t" x="330" y="839"><tspan x="330">120mm Paratorch composite insulated board with</tspan><tspan x="330" dy="9.3">impregnated fibreboard upper face fixed upper side of</tspan><tspan x="330" dy="9.3">new ceiling joists</tspan></text>
<text class="t" x="926" y="832"><tspan x="926">four trimmers fixed to steelwork</tspan><tspan x="926" dy="9.3">with 12mm paratorch facing to</tspan><tspan x="926" dy="9.3">outside deck area</tspan></text>
<text class="t" x="1134" y="812"><tspan x="1134">50 x 225mm joists</tspan><tspan x="1134" dy="9.3">@ 450mm c/c (to</tspan><tspan x="1134" dy="9.3">engineer's</tspan><tspan x="1134" dy="9.3">specification and</tspan><tspan x="1134" dy="9.3">details)</tspan></text>
<text class="t" x="474" y="871"><tspan x="474">Paralon 2-ply roofing membane fixed to</tspan><tspan x="474" dy="9.3">manufacturer's instructions and</tspan><tspan x="474" dy="9.3">recommendations by Moy Materials</tspan><tspan x="474" dy="9.3">recommended contractor</tspan></text>
<text class="t" x="940" y="868"><tspan x="940">Floor filled with 3 layers of 75mm</tspan><tspan x="940" dy="9.3">Kingspan Thermaroof Insulation</tspan><tspan x="940" dy="9.3">(225mm o/a) friction -fitted</tspan><tspan x="940" dy="9.3">between vertical studs.</tspan></text>
<text x="602" y="898" style="font-size:10.5px;fill:#111">First Floor Level</text>
<text x="602" y="911" style="font-size:10.5px;fill:#111">10.972</text>
<text x="1097" y="888" style="font-size:10.5px;fill:#111">First Floor Level</text>
<text x="1097" y="900" style="font-size:10.5px;fill:#111">10.990</text>
<text class="t" x="322" y="899"><tspan x="322">18mm decking to upper side of</tspan><tspan x="352" dy="9.3">membrane</tspan></text>
<text class="t" x="507" y="947"><tspan x="507">18mm OSB</tspan><tspan x="507" dy="9.3">with 2mm</tspan><tspan x="507" dy="9.3">Paratorch</tspan><tspan x="507" dy="9.3">vapour</tspan><tspan x="507" dy="9.3">barrier</tspan></text>
<text class="t" x="567" y="957"><tspan x="567">50 x 225mm joists</tspan><tspan x="567" dy="9.3">@ 450mm c/c (to</tspan><tspan x="567" dy="9.3">engineer's</tspan><tspan x="567" dy="9.3">specification and</tspan><tspan x="567" dy="9.3">details)</tspan></text>
<text class="t" x="353" y="959"><tspan x="353">3 layer of 70mm Kingspan</tspan><tspan x="353" dy="9.3">Thermaroof K7 insulation</tspan><tspan x="353" dy="9.3">(210mm thick) friction-fitted</tspan><tspan x="353" dy="9.3">between joists</tspan></text>
<text class="t" x="982" y="978"><tspan x="982">50 x 112mm</tspan><tspan x="982" dy="9.3">counter-battens @</tspan><tspan x="982" dy="9.3">450mm c/c (to</tspan><tspan x="982" dy="9.3">engineer's</tspan><tspan x="982" dy="9.3">specification and</tspan><tspan x="982" dy="9.3">details)</tspan></text>
<text class="t" x="511" y="1092">tilting fillet 1:100 filled with Metec 1- 60mm)</text>
<text class="t" x="929" y="1085"><tspan x="929">Metec Insulation</tspan><tspan x="929" dy="9.3">fill to seel section</tspan></text>
<rect x="583" y="1179" width="120" height="37" fill="#fff" opacity=".85"/>
<text class="t" x="585" y="1187"><tspan x="585">3 layer of Kingspan Thermaroof</tspan><tspan x="585" dy="9.3">K7 insulation (210mm thick)</tspan><tspan x="585" dy="9.3">friction-fitted between joists with</tspan><tspan x="585" dy="9.3">av. 40mm metec above</tspan></text>
<text class="t" x="384" y="1220"><tspan x="384">structural build-up as</tspan><tspan x="384" dy="9.3">per engineer's details</tspan></text>
<text x="1039" y="1186" style="font-size:14px;font-weight:bold;fill:#1c33e6"><tspan x="1039">steel</tspan><tspan x="1039" dy="16">beam</tspan><tspan x="1039" dy="16">zone</tspan></text>
<text class="t" x="533" y="1306">12mm OSB</text>
<text class="t" x="594" y="1329"><tspan x="594">50 X 50mm batten</tspan><tspan x="594" dy="9.3">supports to plasterboard</tspan></text>
<text x="715" y="1310" style="font-size:10px;font-weight:bold;fill:#17b0e0"><tspan x="715">face of</tspan><tspan x="715" dy="12">blockwork</tspan></text>
<text class="t" x="775" y="1312"><tspan x="775">305  x 165 UB steel</tspan><tspan x="775" dy="9.3">beam to engineer's</tspan><tspan x="775" dy="9.3">specification and</tspan><tspan x="775" dy="9.3">details)</tspan></text>
<text class="t" x="852" y="1309"><tspan x="852">softwood filler piece</tspan><tspan x="852" dy="9.3">faced with 18mm</tspan><tspan x="852" dy="9.3">marine plywood</tspan></text>
<text class="t" x="950" y="1340"><tspan x="950">202  x202 UC steel</tspan><tspan x="950" dy="9.3">beam to engineer's</tspan><tspan x="950" dy="9.3">specification and</tspan><tspan x="950" dy="9.3">details)</tspan></text>
<text class="t" x="1146" y="1314"><tspan x="1146">50mm mineral wool</tspan><tspan x="1146" dy="9.3">quilt in ceiling void</tspan><tspan x="1146" dy="9.3">(≥18kg/m3)</tspan></text>
<text class="t" x="1232" y="1314"><tspan x="1232">50 x 225mm joists</tspan><tspan x="1232" dy="9.3">@ 450mm c/c (to</tspan><tspan x="1232" dy="9.3">engineer's</tspan><tspan x="1232" dy="9.3">specification and</tspan><tspan x="1232" dy="9.3">details)</tspan></text>
<text class="t" x="353" y="1343"><tspan x="353">fibre-quilt as soundproofing to</tspan><tspan x="353" dy="9.3">services vid above plasterboard</tspan></text>
<text class="r" x="538" y="1361"><tspan x="538">Siga VCL vapour barrier to</tspan><tspan x="538" dy="9.4">underside of joists- to be</tspan><tspan x="538" dy="9.4">continuous and taped to</tspan><tspan x="538" dy="9.4">perimeter walls using Siga</tspan><tspan x="538" dy="9.4">sicral 60x60mm</tspan><tspan x="538" dy="9.4">proprietary tapes</tspan></text>
<text class="t" x="661" y="1364"><tspan x="661">1 layer 15mm Gyproc SoundBloc</tspan><tspan x="661" dy="9.3">fixed to underside of new joists</tspan><tspan x="661" dy="9.3">with  42mm Gyproc Drywall</tspan><tspan x="661" dy="9.3">Screws at 300mm centres</tspan></text>
<text class="d" x="801" y="730" text-anchor="middle">380</text>
<text class="d" x="744" y="828" text-anchor="middle">80</text>
<text class="d" x="806" y="828" text-anchor="middle">131</text>
<text transform="translate(701,912) rotate(-90)" text-anchor="middle" style="font-size:12px;font-weight:bold;fill:#e8271b">18</text>
<text class="d" transform="translate(494,971) rotate(-90)" text-anchor="middle">134</text>
<text class="d" x="704" y="974" text-anchor="middle">80</text>
<text class="d" x="727" y="962" text-anchor="middle">30</text>
<text class="d" x="788" y="1018" text-anchor="middle">173</text>
<text class="d" transform="translate(883,1000) rotate(-90)" text-anchor="middle">225</text>
<text class="d" transform="translate(969,997) rotate(-90)" text-anchor="middle">276</text>
<text class="d" transform="translate(1111,1014) rotate(-90)" text-anchor="middle">337</text>
<text class="d" transform="translate(603,1037) rotate(-90)" text-anchor="middle">120</text>
<text class="d" transform="translate(714,1053) rotate(-90)" text-anchor="middle">307</text>
<text transform="translate(811,1060) rotate(-90)" text-anchor="middle" style="font-size:7px;font-weight:bold;fill:#e8271b">581</text>
<text class="d" transform="translate(635,1096) rotate(-90)" text-anchor="middle">61</text>
<text class="d" x="765" y="1083" text-anchor="middle">100</text>
<text class="d" transform="translate(309,1110) rotate(-90)" text-anchor="middle">380</text>
<text class="d" transform="translate(469,1150) rotate(-90)" text-anchor="middle">av. 30mm (varies)</text>
<text class="d" transform="translate(722,1192) rotate(-90)" text-anchor="middle">223</text>
<text class="d" transform="translate(1111,1193) rotate(-90)" text-anchor="middle">202</text>
<text transform="translate(1270,1078) rotate(-90)" text-anchor="middle" style="font-size:18px;font-weight:bold;fill:#111">596</text>
<text transform="translate(1310,1090) rotate(-90)" text-anchor="middle" style="font-size:18px;font-weight:bold;fill:#e8271b">581</text>

<path d="M828,1341 A44,44 0 1 0 853,1341" fill="none" stroke="#e8271b" stroke-width=".8"/>
<text x="833" y="1396" text-anchor="middle" style="font-size:44px;font-weight:bold;fill:#e8271b">3</text>

<circle cx="301" cy="1502" r="64" fill="none" stroke="#555" stroke-width=".8"/>
<path d="M237,1503H760" stroke="#999" stroke-width="1.2"/>
<text class="ti" x="302" y="1489" text-anchor="middle" style="font-size:27px" textLength="33" lengthAdjust="spacingAndGlyphs">D6</text>
<text class="ti" x="299" y="1547" text-anchor="middle" style="font-size:27px" textLength="27" lengthAdjust="spacingAndGlyphs">15</text>
<text class="ti" x="383" y="1461" style="font-size:28px" textLength="598" lengthAdjust="spacingAndGlyphs">CONSOLIDATED UPPER DECK SECTION (CANOPY</text>
<text class="ti" x="383" y="1489" style="font-size:28px" textLength="231" lengthAdjust="spacingAndGlyphs">OVER REAR WALL)</text>
<text class="ti" x="383" y="1546" style="font-size:28px" textLength="154" lengthAdjust="spacingAndGlyphs">SCALE : NTS</text>
</svg>
</body></html>
